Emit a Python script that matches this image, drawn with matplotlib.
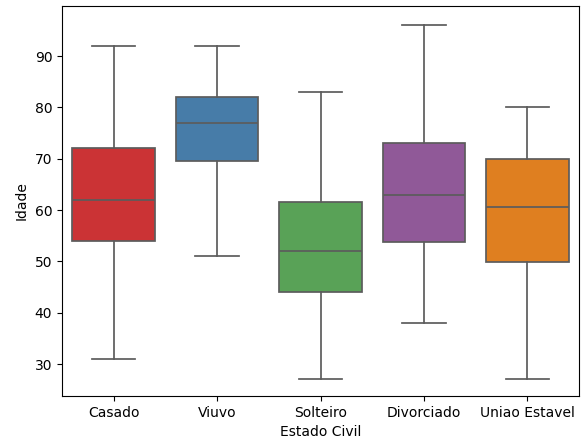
import matplotlib
matplotlib.use("Agg")
import matplotlib.pyplot as plt
import seaborn as sns

categorias = ["Casado", "Viuvo", "Solteiro", "Divorciado", "Uniao Estavel"]
whislo = [31, 51, 27, 38, 27]
q1 = [54, 69.5, 44, 53.8, 49.8]
med = [62, 77, 52, 63, 60.5]
q3 = [72, 82, 61.5, 73, 70]
whishi = [92, 92, 83, 96, 80]

stats = []
for i in range(len(categorias)):
    stats.append({"label": categorias[i], "whislo": whislo[i], "q1": q1[i],
                  "med": med[i], "q3": q3[i], "whishi": whishi[i], "fliers": []})

cores = [sns.desaturate(c, 0.75) for c in sns.color_palette("Set1", 5)]
linha = "#5c5c5c"

fig = plt.figure(figsize=(5.81, 4.45), dpi=100)
ax = fig.add_axes([62 / 581, 1 - 396 / 445, 517 / 581, 390 / 445])
bp = ax.bxp(stats, positions=range(len(categorias)), widths=0.8, patch_artist=True,
            capwidths=0.42, showfliers=False,
            boxprops=dict(edgecolor=linha, linewidth=1.25),
            medianprops=dict(color=linha, linewidth=1.25),
            whiskerprops=dict(color=linha, linewidth=1.25),
            capprops=dict(color=linha, linewidth=1.25))
for patch, c in zip(bp["boxes"], cores):
    patch.set_facecolor(c)

ax.set_xlim(-0.5, 4.5)
ax.set_ylim(23.77, 99.74)
ax.set_xticks(range(len(categorias)))
ax.set_xticklabels(categorias)
ax.set_xlabel("Estado Civil")
ax.set_ylabel("Idade")
fig.savefig("out.png")
